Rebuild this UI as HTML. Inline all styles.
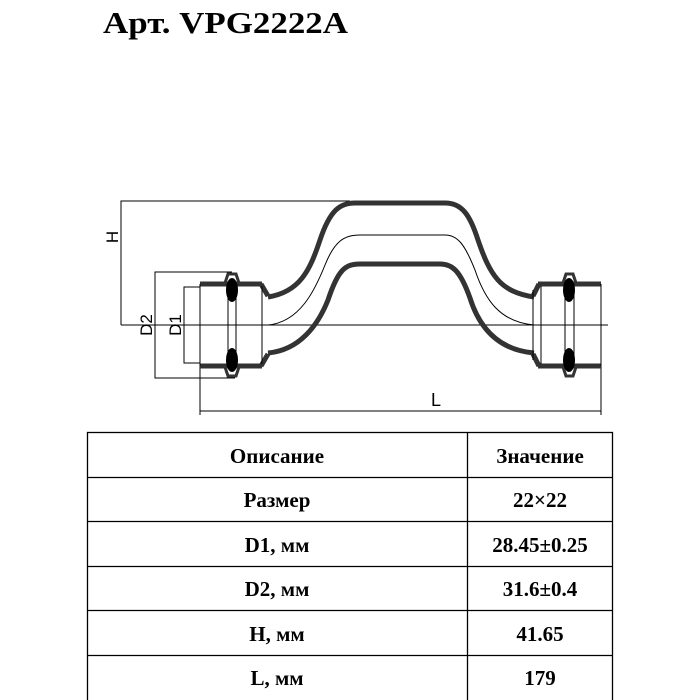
<!DOCTYPE html>
<html><head><meta charset="utf-8"><style>
html,body{margin:0;padding:0;background:#fff;}
svg{display:block}
</style></head><body>
<svg width="700" height="700" viewBox="0 0 700 700" xmlns="http://www.w3.org/2000/svg">
<text x="103" y="33" font-family="Liberation Serif, serif" font-weight="bold" font-size="31" textLength="245" lengthAdjust="spacingAndGlyphs" fill="#000">Арт. VPG2222A</text>

<g fill="none" stroke="#000" stroke-width="1">
  <polyline points="350,201 121,201 121,325"/>
  <line x1="121" y1="325" x2="608" y2="325"/>
  <polyline points="232,272 155,272 155,378 235,378"/>
  <polyline points="200,287 184,287 184,363 200,363"/>
  <line x1="200" y1="363" x2="200" y2="415"/>
  <line x1="601" y1="363" x2="601" y2="415"/>
  <line x1="200" y1="411" x2="601" y2="411"/>
</g>

<g fill="none" stroke="#333" stroke-width="5">
  <path d="M268,297 C300,292 310,270 320,240 C330,210 340,203 355,203 L445,203 C462,203 470,215 478,240 C490,275 500,292 534,297"/>
  <path d="M268,353 C300,350 318,325 328,300 C338,270 345,264 360,264 L440,264 C452,264 460,270 470,298 C480,330 500,350 534,353"/>
</g>
<path d="M268,325 C300,322 315,290 325,265 C335,240 345,235 360,235 L445,235 C458,235 465,245 475,270 C485,300 500,322 534,325" fill="none" stroke="#000" stroke-width="1"/>

<g stroke="#333" fill="none">
  <line x1="200" y1="284" x2="262" y2="284" stroke-width="5"/>
  <line x1="200" y1="366" x2="262" y2="366" stroke-width="5"/>
  <polyline points="261,284 268,296" stroke-width="5"/>
  <polyline points="261,366 268,354" stroke-width="5"/>
  <path d="M224,286 L228,274 L236,274 L240,286" stroke-width="3"/>
  <path d="M224,364 L228,376 L236,376 L240,364" stroke-width="3"/>
</g>
<g stroke="#000" stroke-width="1">
  <line x1="200" y1="284" x2="200" y2="366"/>
  <line x1="228" y1="290" x2="228" y2="360"/>
  <line x1="236" y1="290" x2="236" y2="360"/>
  <line x1="262" y1="286" x2="262" y2="364"/>
</g>
<ellipse cx="232" cy="290" rx="6" ry="12" fill="#000"/>
<ellipse cx="232" cy="360" rx="6" ry="12" fill="#000"/>

<g stroke="#333" fill="none">
  <line x1="538" y1="284" x2="601" y2="284" stroke-width="5"/>
  <line x1="538" y1="366" x2="601" y2="366" stroke-width="5"/>
  <polyline points="539,284 533,296" stroke-width="5"/>
  <polyline points="539,366 533,354" stroke-width="5"/>
  <path d="M562,286 L566,274 L573,274 L577,286" stroke-width="3"/>
  <path d="M562,364 L566,376 L573,376 L577,364" stroke-width="3"/>
</g>
<g stroke="#000" stroke-width="1">
  <line x1="533" y1="290" x2="533" y2="360"/>
  <line x1="541" y1="286" x2="541" y2="364"/>
  <line x1="565" y1="290" x2="565" y2="360"/>
  <line x1="574" y1="290" x2="574" y2="360"/>
  <line x1="601" y1="284" x2="601" y2="366"/>
</g>
<ellipse cx="569" cy="290" rx="6" ry="12" fill="#000"/>
<ellipse cx="569" cy="360" rx="6" ry="12" fill="#000"/>

<g font-family="Liberation Sans, sans-serif" font-size="17" fill="#000">
  <text transform="translate(118,237) rotate(-90)" text-anchor="middle">H</text>
  <text transform="translate(152,325) rotate(-90)" text-anchor="middle">D2</text>
  <text transform="translate(181,325) rotate(-90)" text-anchor="middle">D1</text>
  <text x="436" y="406" text-anchor="middle" font-size="18">L</text>
</g>

<g stroke="#000" stroke-width="1.3" fill="none">
  <rect x="87.5" y="432.5" width="525" height="270"/>
  <line x1="467.5" y1="432" x2="467.5" y2="700"/>
  <line x1="87" y1="477.5" x2="613" y2="477.5"/>
  <line x1="87" y1="521.5" x2="613" y2="521.5"/>
  <line x1="87" y1="566.5" x2="613" y2="566.5"/>
  <line x1="87" y1="610.5" x2="613" y2="610.5"/>
  <line x1="87" y1="655.5" x2="613" y2="655.5"/>
</g>
<g font-family="Liberation Serif, serif" font-weight="bold" font-size="21" fill="#000" text-anchor="middle">
  <text x="277" y="463">Описание</text><text x="540" y="463">Значение</text>
  <text x="277" y="507">Размер</text><text x="540" y="507">22×22</text>
  <text x="277" y="552">D1, мм</text><text x="540" y="552">28.45±0.25</text>
  <text x="277" y="596">D2, мм</text><text x="540" y="596">31.6±0.4</text>
  <text x="277" y="641">H, мм</text><text x="540" y="641">41.65</text>
  <text x="277" y="685">L, мм</text><text x="540" y="685">179</text>
</g>
</svg>
</body></html>
